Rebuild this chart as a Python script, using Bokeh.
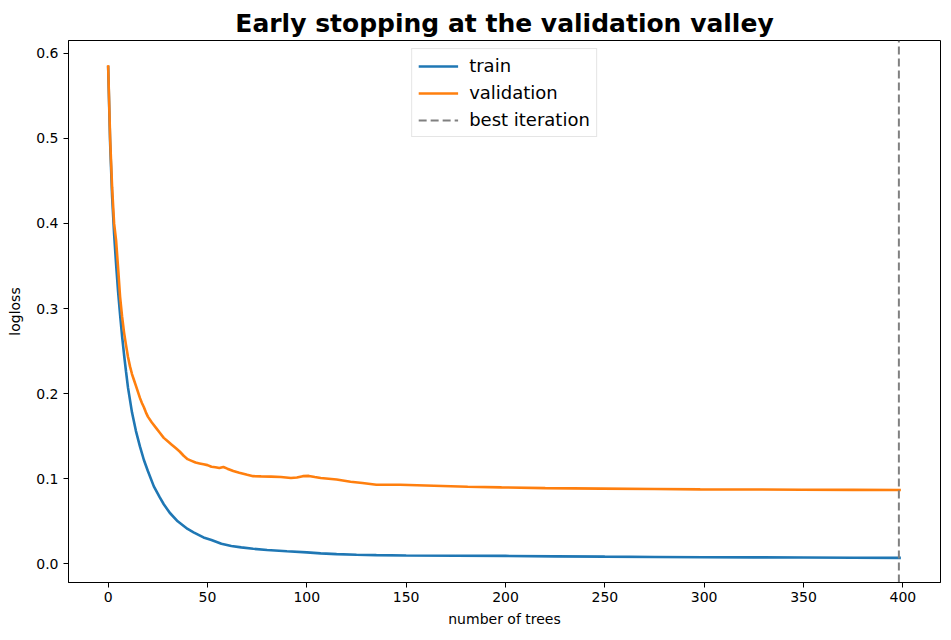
from bokeh.plotting import figure
from bokeh.models import Range1d, FixedTicker, Legend, LegendItem, NumeralTickFormatter
from bokeh.embed import file_html
from bokeh.resources import INLINE

# ---- data ----
trees_train = [0, 1, 2, 3, 4, 5, 6, 7, 8, 9, 10, 12, 14, 16, 18, 20, 23, 26, 28, 31, 35, 40, 43, 48,
               52, 57, 62, 67, 73, 80, 90, 100, 107, 115, 125, 135, 150, 175, 200, 225, 250, 275,
               300, 325, 350, 375, 399]
train_logloss = [0.585, 0.495, 0.432, 0.388, 0.352, 0.320, 0.293, 0.268, 0.246, 0.226, 0.207, 0.178,
                 0.156, 0.138, 0.122, 0.109, 0.091, 0.078, 0.070, 0.060, 0.050, 0.041, 0.037, 0.031,
                 0.028, 0.0235, 0.021, 0.0193, 0.0177, 0.0163, 0.0148, 0.0135, 0.0123, 0.0114, 0.0107,
                 0.0102, 0.0098, 0.0095, 0.0093, 0.0088, 0.0084, 0.0081, 0.0078, 0.0076, 0.0074,
                 0.0072, 0.0070]

trees_valid = [0, 1, 2, 3, 4, 5, 6, 7, 8, 9, 10, 11, 12, 13, 14, 15, 16, 17, 18, 19, 20,
               22, 24, 26, 28, 30, 32, 34, 36, 38, 40, 42, 44, 46, 48, 50, 52, 54, 56, 58, 60,
               63, 66, 70, 73, 77, 82, 87, 92, 95, 98, 101, 104, 107,
               115, 122, 128, 135, 147, 164, 181, 198, 220, 248, 275, 298, 325, 349, 375, 399]
valid_logloss = [0.586, 0.500, 0.442, 0.400, 0.380, 0.348, 0.314, 0.291, 0.272, 0.257, 0.243,
                 0.232, 0.223, 0.216, 0.209, 0.202, 0.195, 0.189, 0.184, 0.178, 0.173,
                 0.166, 0.160, 0.154, 0.148, 0.144, 0.140, 0.136, 0.132, 0.127, 0.123,
                 0.121, 0.119, 0.118, 0.117, 0.116, 0.114, 0.1135, 0.1125, 0.1138, 0.1118,
                 0.109, 0.107, 0.1047, 0.103, 0.1027, 0.1025, 0.102, 0.1008, 0.1015, 0.1030,
                 0.1033, 0.102, 0.1008,
                 0.099, 0.0965, 0.095, 0.093, 0.093, 0.0918, 0.0906, 0.0898, 0.0890, 0.0884,
                 0.0879, 0.0875, 0.0873, 0.0871, 0.0869, 0.0867]

best_iteration = 398
x_ticks = [0, 50, 100, 150, 200, 250, 300, 350, 400]
y_ticks = [0.0, 0.1, 0.2, 0.3, 0.4, 0.5, 0.6]

FONT = "DejaVu Sans"

# ranges with matplotlib-like 5% margins
xmin, xmax = min(trees_train), max(trees_train)
ymin = min(train_logloss + valid_logloss)
ymax = max(train_logloss + valid_logloss)
xpad = 0.05 * (xmax - xmin)
ypad = 0.05 * (ymax - ymin)
y_lo, y_hi = ymin - ypad, ymax + ypad

p = figure(width=951, height=640, output_backend="svg", toolbar_location=None,
           x_range=Range1d(xmin - xpad, xmax + xpad),
           y_range=Range1d(y_lo, y_hi),
           min_border_left=68, min_border_right=11, min_border_top=40, min_border_bottom=58,
           title="Early stopping at the validation valley")

p.title.text_font = FONT
p.title.text_font_size = "25px"
p.title.text_font_style = "bold"
p.title.align = "center"
p.title.text_color = "black"
p.title.standoff = 5
p.title.offset = 0

p.xgrid.visible = False
p.ygrid.visible = False
p.outline_line_color = "black"
p.outline_line_alpha = 1.0
p.outline_line_width = 1
p.background_fill_color = "white"
p.border_fill_color = "white"

for ax in (p.xaxis[0], p.yaxis[0]):
    ax.axis_line_color = "black"
    ax.major_tick_line_color = "black"
    ax.major_tick_out = 5
    ax.major_tick_in = 0
    ax.minor_tick_line_color = None
    ax.major_label_text_font = FONT
    ax.major_label_text_font_size = "14px"
    ax.major_label_text_color = "black"
    ax.axis_label_text_font = FONT
    ax.axis_label_text_font_size = "14px"
    ax.axis_label_text_font_style = "normal"
    ax.axis_label_text_color = "black"

p.xaxis.ticker = FixedTicker(ticks=x_ticks)
p.yaxis.ticker = FixedTicker(ticks=y_ticks)
p.yaxis.formatter = NumeralTickFormatter(format="0.0")
p.xaxis.axis_label = "number of trees"
p.yaxis.axis_label = "logloss"
p.xaxis.major_label_standoff = 4
p.xaxis.axis_label_standoff = 6
p.yaxis.major_label_standoff = 5
p.yaxis.axis_label_standoff = 10

r_train = p.line(trees_train, train_logloss, line_color="#1f77b4", line_width=2.6)
r_valid = p.line(trees_valid, valid_logloss, line_color="#ff7f0e", line_width=2.6)

# vertical dashed line at the best iteration, spanning the whole y range
r_best = p.segment(x0=[best_iteration], y0=[y_lo], x1=[best_iteration], y1=[y_hi],
                   line_color="gray", line_width=2, line_dash="8 4")

legend = Legend(items=[LegendItem(label="train", renderers=[r_train]),
                       LegendItem(label="validation", renderers=[r_valid]),
                       LegendItem(label="best iteration", renderers=[r_best])],
                location="top_center")
legend.label_text_font = FONT
legend.label_text_font_size = "18px"
legend.label_text_color = "black"
legend.glyph_width = 40
legend.glyph_height = 20
legend.spacing = 6
legend.padding = 6
legend.margin = 8
legend.label_standoff = 11
legend.border_line_color = "#cccccc"
legend.border_line_width = 1
legend.background_fill_color = "white"
legend.background_fill_alpha = 0.8
p.add_layout(legend)

open("out.html", "w").write(file_html(p, INLINE))
